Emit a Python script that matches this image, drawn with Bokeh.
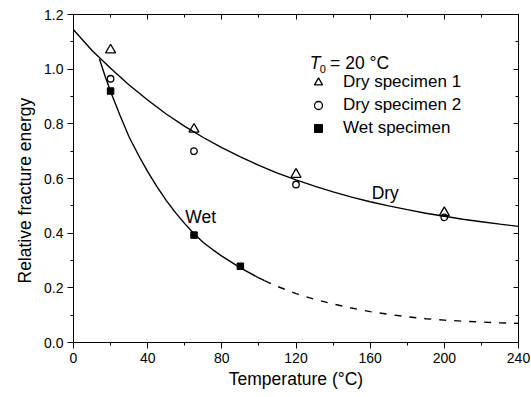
from bokeh.plotting import figure
from bokeh.models import (LinearAxis, FixedTicker, PrintfTickFormatter, Range1d,
                          Legend, LegendItem, Label, Title)
from bokeh.embed import file_html
from bokeh.resources import INLINE

# ---- measured data -------------------------------------------------------
temp_dry = [20, 65, 120, 200]
dry_specimen_1 = [1.07, 0.78, 0.615, 0.475]
dry_specimen_2 = [0.965, 0.70, 0.578, 0.458]

temp_wet = [20, 65, 90]
wet_specimen = [0.92, 0.393, 0.279]

# ---- fitted trend curves -------------------------------------------------
dry_curve_t = [0, 10, 20, 30, 40, 50, 60, 70, 80, 90, 100, 110, 120,
               130, 140, 150, 160, 170, 180, 190, 200, 210, 220, 230, 240]
dry_curve = [1.144, 1.068, 1.003, 0.942, 0.887, 0.836, 0.791, 0.750, 0.713,
             0.679, 0.648, 0.620, 0.595, 0.572, 0.551, 0.532, 0.515, 0.500,
             0.486, 0.473, 0.462, 0.451, 0.442, 0.433, 0.425]

wet_curve_t = [14, 17, 20, 25, 30, 35, 40, 45, 50, 55, 60, 65, 70, 75, 80,
               90, 100, 103]
wet_curve = [1.037, 0.975, 0.918, 0.832, 0.752, 0.686, 0.625, 0.570, 0.520,
             0.475, 0.435, 0.398, 0.366, 0.340, 0.316, 0.273, 0.236, 0.226]

# extrapolated part of the wet trend (dashed)
wet_extrap_t = [103, 110, 120, 130, 140, 150, 160, 170, 180, 190, 200, 210,
                220, 230, 240]
wet_extrap = [0.226, 0.205, 0.179, 0.158, 0.141, 0.126, 0.113, 0.103, 0.094,
              0.087, 0.082, 0.078, 0.075, 0.072, 0.070]

# ---- axis ticks and titles -----------------------------------------------
x_ticks = [0, 40, 80, 120, 160, 200, 240]
x_minor = [20, 60, 100, 140, 180, 220]
y_ticks = [0.0, 0.2, 0.4, 0.6, 0.8, 1.0, 1.2]
y_minor = [0.1, 0.3, 0.5, 0.7, 0.9, 1.1]
x_title = "Temperature (°C)"
y_title = "Relative fracture energy"

FONT = "Liberation Sans"

p = figure(frame_width=445, frame_height=328,
           min_border_left=73, min_border_right=13,
           min_border_top=14, min_border_bottom=55,
           x_range=Range1d(0, 240), y_range=Range1d(0, 1.2),
           output_backend="svg", toolbar_location=None,
           x_axis_label=x_title)
p.grid.visible = False
p.outline_line_color = "black"
p.outline_line_width = 1
p.background_fill_color = "white"
p.border_fill_color = "white"

xticker = FixedTicker(ticks=x_ticks, minor_ticks=x_minor)
yticker = FixedTicker(ticks=y_ticks, minor_ticks=y_minor)

p.xaxis[0].ticker = xticker
p.yaxis[0].ticker = yticker
p.yaxis[0].formatter = PrintfTickFormatter(format="%.1f")

for ax in (p.xaxis[0], p.yaxis[0]):
    ax.major_tick_in = 0
    ax.major_tick_out = 6
    ax.minor_tick_in = 0
    ax.minor_tick_out = 3
    ax.axis_line_color = "black"
    ax.major_tick_line_color = "black"
    ax.minor_tick_line_color = "black"
    ax.major_label_text_font = FONT
    ax.major_label_text_font_size = "14px"
    ax.major_label_text_color = "black"
    ax.major_label_standoff = 4

xa = p.xaxis[0]
xa.axis_label_text_font = FONT
xa.axis_label_text_font_size = "17.5px"
xa.axis_label_text_font_style = "normal"
xa.axis_label_text_color = "black"
xa.axis_label_standoff = 3

# y title sits a little below the middle of the frame
p.add_layout(Title(text=y_title, align="left", offset=59, standoff=13,
                   text_font=FONT, text_font_size="17.5px",
                   text_font_style="normal", text_color="black"), "left")

# mirrored axes on top and right with inward ticks only
top_axis = LinearAxis(ticker=xticker,
                      major_label_overrides={t: "" for t in x_ticks},
                      major_label_text_font_size="0px", major_label_standoff=0,
                      major_tick_in=5, major_tick_out=0,
                      minor_tick_in=3, minor_tick_out=0)
right_axis = LinearAxis(ticker=yticker,
                        major_label_overrides={t: "" for t in y_ticks},
                        major_label_text_font_size="0px", major_label_standoff=0,
                        major_tick_in=5, major_tick_out=0,
                        minor_tick_in=3, minor_tick_out=0)
p.add_layout(top_axis, "above")
p.add_layout(right_axis, "right")

# ---- trend curves --------------------------------------------------------
p.line(dry_curve_t, dry_curve, line_color="black", line_width=1.4)
p.line(wet_curve_t, wet_curve, line_color="black", line_width=1.4)
p.line(wet_extrap_t, wet_extrap, line_color="black", line_width=1.4,
       line_dash="7 8")

# ---- measured points -----------------------------------------------------
r_dry1 = p.scatter(temp_dry, dry_specimen_1, marker="triangle", size=10,
                   fill_color="white", fill_alpha=0, line_color="black",
                   line_width=1.3)
r_dry2 = p.scatter(temp_dry, dry_specimen_2, marker="circle", size=6.5,
                   fill_color="white", fill_alpha=0, line_color="black",
                   line_width=1.3)
r_wet = p.scatter(temp_wet, wet_specimen, marker="square", size=6.5,
                  fill_color="black", line_color="black", line_width=1)

legend = Legend(items=[LegendItem(label="Dry specimen 1", renderers=[r_dry1]),
                       LegendItem(label="Dry specimen 2", renderers=[r_dry2]),
                       LegendItem(label="Wet specimen", renderers=[r_wet])],
                location=(235, 204), orientation="vertical",
                padding=0, spacing=3, margin=0,
                glyph_width=20, glyph_height=20, label_height=20,
                label_standoff=15,
                border_line_color=None, background_fill_alpha=0,
                label_text_font=FONT, label_text_font_size="17px",
                label_text_color="black")
p.add_layout(legend)

common = dict(text_font=FONT, text_color="black", text_baseline="alphabetic")

# legend heading: T0 = 20 °C
p.add_layout(Label(x=127.4, y=1.024, text="T", text_font_style="italic",
                   text_font_size="17.5px", **common))
p.add_layout(Label(x=132.8, y=1.0015, text="0", text_font_size="11px", **common))
p.add_layout(Label(x=138.4, y=1.024, text="= 20 °C", text_font_size="17.5px",
                   **common))

# curve names
p.add_layout(Label(x=160.8, y=0.548, text="Dry", text_font_size="17.5px", **common))
p.add_layout(Label(x=60.3, y=0.460, text="Wet", text_font_size="17.5px", **common))

open("out.html", "w").write(file_html(p, INLINE))
